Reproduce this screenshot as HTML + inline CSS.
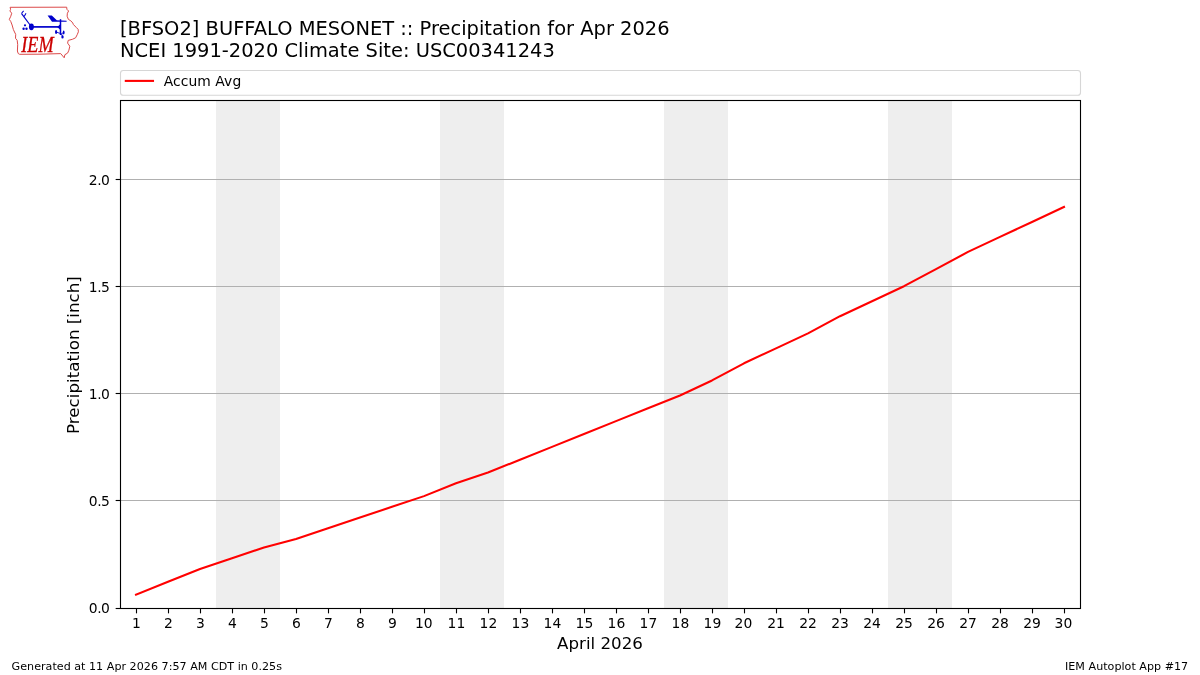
<!DOCTYPE html>
<html lang="en"><head><meta charset="utf-8"><title>BFSO2 Precipitation</title>
<style>html,body{margin:0;padding:0;background:#fff;}body{width:1200px;height:675px;overflow:hidden;}svg{display:block;}text{font-family:"DejaVu Sans","Liberation Sans",sans-serif;fill:#000;}</style></head><body>
<svg width="1200" height="675" viewBox="0 0 1200 675">
<rect width="1200" height="675" fill="#fff"/>
<rect x="216.00" y="100.5" width="64" height="508.0" fill="#eeeeee"/>
<rect x="440.00" y="100.5" width="64" height="508.0" fill="#eeeeee"/>
<rect x="664.00" y="100.5" width="64" height="508.0" fill="#eeeeee"/>
<rect x="888.00" y="100.5" width="64" height="508.0" fill="#eeeeee"/>
<line x1="120.5" x2="1080.5" y1="500.50" y2="500.50" stroke="#b0b0b0" stroke-width="1.11"/>
<line x1="120.5" x2="1080.5" y1="393.50" y2="393.50" stroke="#b0b0b0" stroke-width="1.11"/>
<line x1="120.5" x2="1080.5" y1="286.50" y2="286.50" stroke="#b0b0b0" stroke-width="1.11"/>
<line x1="120.5" x2="1080.5" y1="179.50" y2="179.50" stroke="#b0b0b0" stroke-width="1.11"/>
<polyline points="136.00,594.65 168.00,581.80 200.00,568.94 232.00,558.23 264.00,547.52 296.00,538.96 328.00,528.25 360.00,517.54 392.00,506.83 424.00,496.12 456.00,483.26 488.00,472.55 520.00,459.70 552.00,446.85 584.00,434.00 616.00,421.15 648.00,408.29 680.00,395.44 712.00,380.45 744.00,363.31 776.00,348.32 808.00,333.32 840.00,316.19 872.00,301.19 904.00,286.20 936.00,269.06 968.00,251.93 1000.00,236.93 1032.00,221.94 1064.00,206.95" fill="none" stroke="#ff0000" stroke-width="2.08" stroke-linejoin="round" stroke-linecap="square"/>
<rect x="120.5" y="100.5" width="960.0" height="508.0" fill="none" stroke="#000" stroke-width="1.11"/>
<line x1="136.50" x2="136.50" y1="608.5" y2="613.36" stroke="#000" stroke-width="1.11"/>
<text x="136.30" y="628.4" font-size="13.89" text-anchor="middle">1</text>
<line x1="168.50" x2="168.50" y1="608.5" y2="613.36" stroke="#000" stroke-width="1.11"/>
<text x="168.30" y="628.4" font-size="13.89" text-anchor="middle">2</text>
<line x1="200.50" x2="200.50" y1="608.5" y2="613.36" stroke="#000" stroke-width="1.11"/>
<text x="200.30" y="628.4" font-size="13.89" text-anchor="middle">3</text>
<line x1="232.50" x2="232.50" y1="608.5" y2="613.36" stroke="#000" stroke-width="1.11"/>
<text x="232.30" y="628.4" font-size="13.89" text-anchor="middle">4</text>
<line x1="264.50" x2="264.50" y1="608.5" y2="613.36" stroke="#000" stroke-width="1.11"/>
<text x="264.30" y="628.4" font-size="13.89" text-anchor="middle">5</text>
<line x1="296.50" x2="296.50" y1="608.5" y2="613.36" stroke="#000" stroke-width="1.11"/>
<text x="296.30" y="628.4" font-size="13.89" text-anchor="middle">6</text>
<line x1="328.50" x2="328.50" y1="608.5" y2="613.36" stroke="#000" stroke-width="1.11"/>
<text x="328.30" y="628.4" font-size="13.89" text-anchor="middle">7</text>
<line x1="360.50" x2="360.50" y1="608.5" y2="613.36" stroke="#000" stroke-width="1.11"/>
<text x="360.30" y="628.4" font-size="13.89" text-anchor="middle">8</text>
<line x1="392.50" x2="392.50" y1="608.5" y2="613.36" stroke="#000" stroke-width="1.11"/>
<text x="392.30" y="628.4" font-size="13.89" text-anchor="middle">9</text>
<line x1="424.50" x2="424.50" y1="608.5" y2="613.36" stroke="#000" stroke-width="1.11"/>
<text x="423.85" y="628.4" font-size="13.89" text-anchor="middle">10</text>
<line x1="456.50" x2="456.50" y1="608.5" y2="613.36" stroke="#000" stroke-width="1.11"/>
<text x="456.45" y="628.4" font-size="13.89" text-anchor="middle">11</text>
<line x1="488.50" x2="488.50" y1="608.5" y2="613.36" stroke="#000" stroke-width="1.11"/>
<text x="488.45" y="628.4" font-size="13.89" text-anchor="middle">12</text>
<line x1="520.50" x2="520.50" y1="608.5" y2="613.36" stroke="#000" stroke-width="1.11"/>
<text x="520.45" y="628.4" font-size="13.89" text-anchor="middle">13</text>
<line x1="552.50" x2="552.50" y1="608.5" y2="613.36" stroke="#000" stroke-width="1.11"/>
<text x="552.45" y="628.4" font-size="13.89" text-anchor="middle">14</text>
<line x1="584.50" x2="584.50" y1="608.5" y2="613.36" stroke="#000" stroke-width="1.11"/>
<text x="584.45" y="628.4" font-size="13.89" text-anchor="middle">15</text>
<line x1="616.50" x2="616.50" y1="608.5" y2="613.36" stroke="#000" stroke-width="1.11"/>
<text x="616.45" y="628.4" font-size="13.89" text-anchor="middle">16</text>
<line x1="648.50" x2="648.50" y1="608.5" y2="613.36" stroke="#000" stroke-width="1.11"/>
<text x="648.45" y="628.4" font-size="13.89" text-anchor="middle">17</text>
<line x1="680.50" x2="680.50" y1="608.5" y2="613.36" stroke="#000" stroke-width="1.11"/>
<text x="680.45" y="628.4" font-size="13.89" text-anchor="middle">18</text>
<line x1="712.50" x2="712.50" y1="608.5" y2="613.36" stroke="#000" stroke-width="1.11"/>
<text x="712.45" y="628.4" font-size="13.89" text-anchor="middle">19</text>
<line x1="744.50" x2="744.50" y1="608.5" y2="613.36" stroke="#000" stroke-width="1.11"/>
<text x="743.40" y="628.4" font-size="13.89" text-anchor="middle">20</text>
<line x1="776.50" x2="776.50" y1="608.5" y2="613.36" stroke="#000" stroke-width="1.11"/>
<text x="776.00" y="628.4" font-size="13.89" text-anchor="middle">21</text>
<line x1="808.50" x2="808.50" y1="608.5" y2="613.36" stroke="#000" stroke-width="1.11"/>
<text x="808.00" y="628.4" font-size="13.89" text-anchor="middle">22</text>
<line x1="840.50" x2="840.50" y1="608.5" y2="613.36" stroke="#000" stroke-width="1.11"/>
<text x="840.00" y="628.4" font-size="13.89" text-anchor="middle">23</text>
<line x1="872.50" x2="872.50" y1="608.5" y2="613.36" stroke="#000" stroke-width="1.11"/>
<text x="872.00" y="628.4" font-size="13.89" text-anchor="middle">24</text>
<line x1="904.50" x2="904.50" y1="608.5" y2="613.36" stroke="#000" stroke-width="1.11"/>
<text x="904.00" y="628.4" font-size="13.89" text-anchor="middle">25</text>
<line x1="936.50" x2="936.50" y1="608.5" y2="613.36" stroke="#000" stroke-width="1.11"/>
<text x="936.00" y="628.4" font-size="13.89" text-anchor="middle">26</text>
<line x1="968.50" x2="968.50" y1="608.5" y2="613.36" stroke="#000" stroke-width="1.11"/>
<text x="968.00" y="628.4" font-size="13.89" text-anchor="middle">27</text>
<line x1="1000.50" x2="1000.50" y1="608.5" y2="613.36" stroke="#000" stroke-width="1.11"/>
<text x="1000.00" y="628.4" font-size="13.89" text-anchor="middle">28</text>
<line x1="1032.50" x2="1032.50" y1="608.5" y2="613.36" stroke="#000" stroke-width="1.11"/>
<text x="1032.00" y="628.4" font-size="13.89" text-anchor="middle">29</text>
<line x1="1064.50" x2="1064.50" y1="608.5" y2="613.36" stroke="#000" stroke-width="1.11"/>
<text x="1063.40" y="628.4" font-size="13.89" text-anchor="middle">30</text>
<line x1="115.64" x2="120.5" y1="608.50" y2="608.50" stroke="#000" stroke-width="1.11"/>
<text x="109.9" y="613.10" font-size="13.89" text-anchor="end" textLength="21.1" lengthAdjust="spacing">0.0</text>
<line x1="115.64" x2="120.5" y1="500.50" y2="500.50" stroke="#000" stroke-width="1.11"/>
<text x="109.9" y="506.30" font-size="13.89" text-anchor="end" textLength="21.1" lengthAdjust="spacing">0.5</text>
<line x1="115.64" x2="120.5" y1="393.50" y2="393.50" stroke="#000" stroke-width="1.11"/>
<text x="109.9" y="399.30" font-size="13.89" text-anchor="end" textLength="21.1" lengthAdjust="spacing">1.0</text>
<line x1="115.64" x2="120.5" y1="286.50" y2="286.50" stroke="#000" stroke-width="1.11"/>
<text x="109.9" y="292.30" font-size="13.89" text-anchor="end" textLength="21.1" lengthAdjust="spacing">1.5</text>
<line x1="115.64" x2="120.5" y1="179.50" y2="179.50" stroke="#000" stroke-width="1.11"/>
<text x="109.9" y="185.30" font-size="13.89" text-anchor="end" textLength="21.1" lengthAdjust="spacing">2.0</text>
<text x="600" y="649" font-size="16.67" text-anchor="middle">April 2026</text>
<text transform="translate(79,355.07) rotate(-90)" font-size="16.67" text-anchor="middle" textLength="157.9" lengthAdjust="spacing">Precipitation [inch]</text>
<text x="120" y="35" font-size="19.44" textLength="549.6" lengthAdjust="spacing">[BFSO2] BUFFALO MESONET :: Precipitation for Apr 2026</text>
<text x="120" y="57.2" font-size="19.44" textLength="434.8" lengthAdjust="spacing">NCEI 1991-2020 Climate Site: USC00341243</text>
<rect x="120.5" y="70.5" width="960" height="24.8" rx="2.8" fill="#fff" stroke="#d6d6d6" stroke-width="1.11"/>
<line x1="125.8" x2="153" y1="80.9" y2="80.9" stroke="#ff0000" stroke-width="2.08" stroke-linecap="square"/>
<text x="163.7" y="85.8" font-size="13.89" textLength="77.5" lengthAdjust="spacing">Accum Avg</text>
<text x="11.6" y="669.8" font-size="11.11" textLength="270.4" lengthAdjust="spacing">Generated at 11 Apr 2026 7:57 AM CDT in 0.25s</text>
<text x="1188.2" y="669.8" font-size="11.11" text-anchor="end" textLength="123.2" lengthAdjust="spacing">IEM Autoplot App #17</text>
<g id="logo">
<path d="M10.1,7.3 L66.7,7.2 L66.9,9.3 L68.6,11 L67.4,13.2 L67.1,16.2 L68.4,19.4 L70.8,20.8 L72.8,23 L73.3,24.4 L76.2,27.4 L78.1,29.3 L78.4,31.8 L77.2,34.7 L75.6,37.8 L72.4,39.3 L68.2,40.4 L67.6,43.1 L69.8,46.2 L68.9,50.2 L67.6,53.1 L64.9,54.7 L64.2,57.8 L60.7,53.6 L40,54.2 L19.6,54.3 L18.2,53.5 L17.4,51 L17.7,44.7 L17.2,40.3 L15.5,38.3 L15.7,34.4 L14.5,32 L13.4,29.6 L12.1,25 L10.8,21.6 L9.3,19.4 L10.8,16.2 L11.7,13.2 L9.9,11 L10.6,9.3 Z" fill="none" stroke="#dc4a4a" stroke-width="1" stroke-linejoin="round"/>
<g fill="#0000cc" stroke="none">
<ellipse cx="31.4" cy="26.8" rx="2.5" ry="3.4"/>
<circle cx="25" cy="25.3" r="1.1"/><circle cx="23.6" cy="28.7" r="1.2"/><circle cx="26.5" cy="28.7" r="1.2"/>
<path d="M47.6,15.6 L51.8,15.6 L56.8,20.2 L66.6,20.7 L66.6,21.7 L52,21.8 Z"/>
<path d="M57.2,26.9 L60.5,23.9 L60.5,29.9 Z"/>
<ellipse cx="56.1" cy="32" rx="1.1" ry="1.9"/>
<ellipse cx="63.7" cy="32.5" rx="0.9" ry="1.9"/>
<ellipse cx="62.5" cy="36.9" rx="1.2" ry="1.7"/>
</g>
<g fill="none" stroke="#0000cc">
<path d="M31.4,26.9 L60.5,26.9" stroke-width="1.7"/>
<path d="M60.5,19.2 L60.5,35" stroke-width="1.5"/>
<path d="M31.2,26.5 L21.6,13.6" stroke-width="1.15"/>
<path d="M21.4,13.5 L23.6,10.8 M24.2,16.4 L26,13.3" stroke-width="1.05"/>
<path d="M56.5,32.2 L61.5,33.8 L63.5,32.6 M61.5,33.8 L62.4,36.5" stroke-width="0.9"/>
</g>
<text transform="translate(21.2,51.6) scale(0.82,1)" font-size="22.2" style="font-family:'Liberation Serif','DejaVu Serif',serif;font-style:italic;fill:#cc0000;stroke:#cc0000;stroke-width:0.3">IEM</text>
</g>

</svg></body></html>
